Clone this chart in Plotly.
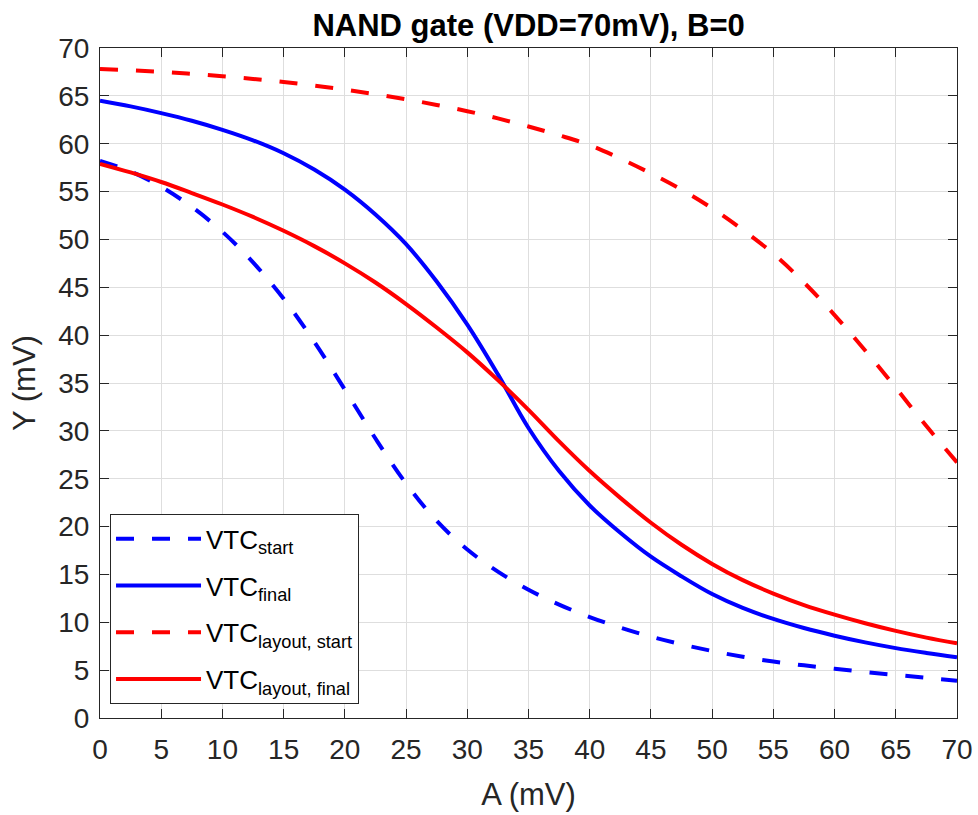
import plotly.graph_objects as go

A = [0, 2.5, 5, 7.5, 10, 12.5, 15, 17.5, 20, 22.5, 25, 27.5, 30, 32.5, 35,
     37.5, 40, 42.5, 45, 47.5, 50, 52.5, 55, 57.5, 60, 62.5, 65, 67.5, 70]
vtc_start = [58.2, 57.1, 55.5, 53.4, 50.8, 47.6, 43.8, 39.3, 34.3, 29.2, 24.5, 20.6, 17.6, 15.3, 13.4,
             11.85, 10.55, 9.45, 8.5, 7.7, 7.0, 6.4, 5.9, 5.5, 5.15, 4.8, 4.5, 4.2, 3.9]
vtc_final = [64.5, 63.9, 63.2, 62.4, 61.45, 60.35, 59.0, 57.3, 55.2, 52.6, 49.5, 45.6, 41.1, 35.9, 30.3,
             25.8, 22.2, 19.35, 16.85, 14.8, 12.95, 11.5, 10.35, 9.4, 8.6, 7.9, 7.3, 6.8, 6.35]
vtc_layout_start = [67.8, 67.67, 67.5, 67.3, 67.05, 66.77, 66.45, 66.07, 65.65, 65.17, 64.65, 64.05, 63.4, 62.65, 61.8,
                    60.88, 59.85, 58.45, 56.9, 55.2, 53.25, 51.0, 48.5, 45.5, 42.1, 38.4, 34.5, 30.5, 26.7]
vtc_layout_final = [57.9, 57.0, 56.0, 54.85, 53.65, 52.35, 50.9, 49.3, 47.5, 45.5, 43.25, 40.8, 38.2, 35.3, 32.2,
                    28.9, 25.8, 23.0, 20.4, 18.1, 16.1, 14.4, 13.0, 11.8, 10.8, 9.9, 9.1, 8.4, 7.8]

ticks = list(range(0, 71, 5))

series = [
    ("VTC<sub>start</sub>", vtc_start, "#0000ff", "18px,18px"),
    ("VTC<sub>final</sub>", vtc_final, "#0000ff", "solid"),
    ("VTC<sub>layout, start</sub>", vtc_layout_start, "#ff0000", "18px,18px"),
    ("VTC<sub>layout, final</sub>", vtc_layout_final, "#ff0000", "solid"),
]

FONT = "Liberation Sans, Arial, sans-serif"

fig = go.Figure()
for i, (name, ys, color, dash) in enumerate(series):
    fig.add_trace(go.Scatter(
        x=A, y=ys, mode="lines", name=name, legendgroup=f"g{i}",
        line=dict(color=color, width=4, dash=dash, shape="spline", smoothing=1.0),
    ))

axis_common = dict(
    range=[0, 70], tickvals=ticks, ticktext=[str(t) for t in ticks],
    showgrid=True, gridcolor="#dedede", gridwidth=1,
    showline=True, linecolor="#262626", linewidth=1, mirror="ticks",
    ticks="inside", ticklen=9, tickcolor="#262626", tickwidth=1,
    tickfont=dict(family=FONT, size=28, color="#262626"),
    zeroline=False, automargin=False,
)

fig.update_layout(
    width=978, height=815,
    margin=dict(l=100, r=21, t=48, b=97),
    paper_bgcolor="white", plot_bgcolor="white",
    title=dict(text="<b>NAND gate (VDD=70mV), B=0</b>", x=0.5405, xanchor="center",
               y=0.969, yanchor="middle",
               font=dict(family=FONT, size=31, color="black")),
    xaxis=dict(axis_common, ticklabelstandoff=6,
               title=dict(text="A (mV)", standoff=19,
                          font=dict(family=FONT, size=31, color="#262626"))),
    yaxis=dict(axis_common, ticklabelstandoff=4,
               title=dict(text="Y (mV)", standoff=13,
                          font=dict(family=FONT, size=31, color="#262626"))),
    legend=dict(x=0.0117, y=0.304, xanchor="left", yanchor="top",
                bgcolor="white", bordercolor="#262626", borderwidth=1,
                font=dict(family=FONT, size=26, color="black"),
                itemwidth=85, tracegroupgap=10, traceorder="grouped"),
    showlegend=True,
)

fig.write_html("out.html")
